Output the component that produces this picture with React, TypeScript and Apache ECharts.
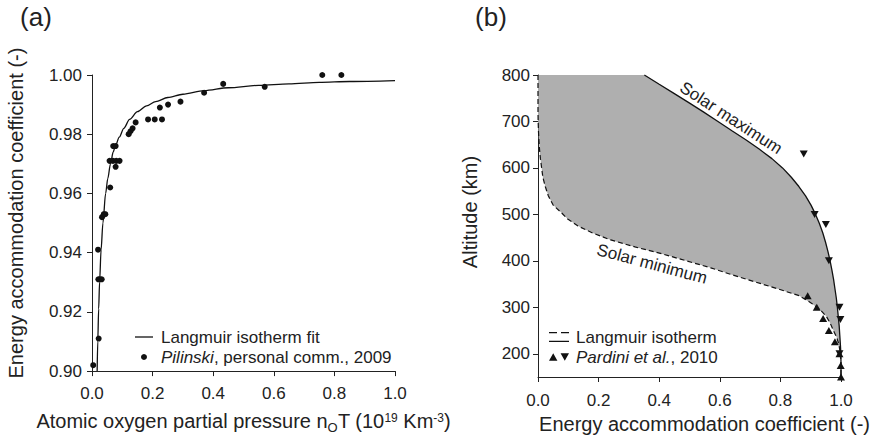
import React, { useEffect, useRef } from "react";
import * as echarts from "echarts";

const FONT = '"Liberation Sans", Arial, Helvetica, sans-serif';
const INK = "#222222";
const GRAY = "#afafaf";

// ---------- Panel (a): Pilinski data and Langmuir fit ----------
const pilinskiX = [0.004, 0.022, 0.021, 0.026, 0.032, 0.020, 0.033, 0.039, 0.044, 0.060, 0.058, 0.069, 0.080, 0.091, 0.078, 0.070, 0.078, 0.121, 0.127, 0.134, 0.144, 0.185, 0.207, 0.231, 0.224, 0.251, 0.292, 0.370, 0.433, 0.570, 0.760, 0.823];
const pilinskiY = [0.902, 0.911, 0.931, 0.931, 0.931, 0.941, 0.952, 0.953, 0.953, 0.962, 0.971, 0.971, 0.971, 0.971, 0.969, 0.976, 0.976, 0.980, 0.981, 0.982, 0.984, 0.985, 0.985, 0.985, 0.989, 0.990, 0.991, 0.994, 0.997, 0.996, 1.000, 1.000];

const fitX = [0.017, 0.019, 0.022, 0.025, 0.030, 0.036, 0.045, 0.052, 0.061, 0.070, 0.077, 0.090, 0.105, 0.124, 0.150, 0.180, 0.210, 0.250, 0.300, 0.370, 0.450, 0.550, 0.650, 0.750, 0.850, 1.000];
const fitY = [0.900, 0.910, 0.921, 0.930, 0.941, 0.950, 0.960, 0.965, 0.970, 0.974, 0.976, 0.979, 0.982, 0.985, 0.9876, 0.9896, 0.9910, 0.9924, 0.9935, 0.9947, 0.9957, 0.9965, 0.9970, 0.9975, 0.9978, 0.9981];

const xTicksA = [0, 0.2, 0.4, 0.6, 0.8, 1.0];
const yTicksA = [0.9, 0.92, 0.94, 0.96, 0.98, 1.0];

// ---------- Panel (b): solar max / min Langmuir curves and Pardini data ----------
const maxAlt = [800, 780, 760, 740, 720, 700, 680, 660, 640, 620, 600, 580, 560, 540, 520, 500, 480, 460, 440, 420, 400, 380, 360, 340, 320, 300, 280, 260, 240, 220, 200, 180, 150];
const maxAcc = [0.351, 0.400, 0.450, 0.499, 0.547, 0.594, 0.640, 0.687, 0.731, 0.772, 0.807, 0.836, 0.861, 0.883, 0.901, 0.916, 0.929, 0.940, 0.949, 0.957, 0.964, 0.970, 0.9755, 0.980, 0.9845, 0.988, 0.991, 0.994, 0.996, 0.998, 0.9995, 1.000, 1.000];

const minAlt = [800, 760, 720, 700, 680, 660, 640, 620, 600, 580, 560, 540, 520, 505, 490, 475, 460, 445, 430, 415, 400, 385, 370, 355, 340, 325, 310, 295, 280, 265, 250, 235, 220, 200, 180, 150];
const minAcc = [0.000, 0.000, 0.000, 0.0005, 0.0015, 0.003, 0.005, 0.008, 0.012, 0.016, 0.024, 0.034, 0.050, 0.075, 0.098, 0.132, 0.180, 0.240, 0.320, 0.410, 0.490, 0.570, 0.640, 0.715, 0.790, 0.862, 0.900, 0.931, 0.952, 0.965, 0.975, 0.986, 0.993, 0.998, 1.000, 1.000];

const pardiniMaxAcc = [0.877, 0.913, 0.950, 0.960, 0.995, 0.998, 0.995];
const pardiniMaxAlt = [630, 500, 478, 400, 300, 274, 200];
const pardiniMinAcc = [0.890, 0.920, 0.941, 0.960, 0.980, 0.995, 0.999, 1.000];
const pardiniMinAlt = [325, 300, 276, 250, 226, 200, 175, 150];

const xTicksB = [0, 0.2, 0.4, 0.6, 0.8, 1.0];
const yTicksB = [200, 300, 400, 500, 600, 700, 800];

const zip = (xs: number[], ys: number[]) => xs.map((x, i) => [x, ys[i]]);

const axisLineStyle = { color: INK, width: 1 };
const labelStyle = { color: INK, fontSize: 17, fontFamily: FONT };

function buildOption(): any {
  const bandPoly = [...zip(maxAcc, maxAlt), ...zip(minAcc, minAlt).reverse()];
  return {
    animation: false,
    backgroundColor: "#ffffff",
    textStyle: { fontFamily: FONT, color: INK },
    grid: [
      { left: 92, top: 75, width: 303, height: 303 },
      { left: 538, top: 75, width: 303, height: 302 },
    ],
    xAxis: [
      {
        type: "value", gridIndex: 0, min: 0, max: 1, interval: 0.2,
        axisLine: { show: true, onZero: false, lineStyle: axisLineStyle },
        axisTick: { show: true, length: 5, lineStyle: axisLineStyle, customValues: xTicksA },
        axisLabel: { ...labelStyle, margin: 14, customValues: xTicksA, formatter: (v: number) => v.toFixed(1) },
        splitLine: { show: false },
        name: "Atomic oxygen partial pressure n{sub|O}T (10{sup|19} Km{sup|-3})",
        nameLocation: "middle", nameGap: 32,
        nameTextStyle: {
          color: INK, fontSize: 20, fontFamily: FONT, lineHeight: 28,
          rich: {
            sub: { fontSize: 13, lineHeight: 13, fontFamily: FONT, color: INK, verticalAlign: "top", padding: [14, 0, 0, 0] },
            sup: { fontSize: 12, lineHeight: 12, fontFamily: FONT, color: INK, verticalAlign: "top", padding: [5, 0, 0, 0] },
          },
        },
      },
      {
        type: "value", gridIndex: 1, min: 0, max: 1, interval: 0.2,
        axisLine: { show: true, onZero: false, lineStyle: axisLineStyle },
        axisTick: { show: true, length: 5, lineStyle: axisLineStyle, customValues: xTicksB },
        axisLabel: { ...labelStyle, margin: 15, customValues: xTicksB, formatter: (v: number) => v.toFixed(1) },
        splitLine: { show: false },
        name: "Energy accommodation coefficient (-)",
        nameLocation: "middle", nameGap: 33,
        nameTextStyle: { color: INK, fontSize: 20, fontFamily: FONT, padding: [0, 0, 0, 30] },
      },
    ],
    yAxis: [
      {
        type: "value", gridIndex: 0, min: 0.9, max: 1.0,
        axisLine: { show: true, onZero: false, lineStyle: axisLineStyle },
        axisTick: { show: true, length: 5, lineStyle: axisLineStyle, customValues: yTicksA },
        axisLabel: { ...labelStyle, margin: 10, customValues: yTicksA, formatter: (v: number) => v.toFixed(2) },
        splitLine: { show: false },
        name: "Energy accommodation coefficient (-)",
        nameLocation: "middle", nameRotate: 90, nameGap: 66,
        nameTextStyle: { color: INK, fontSize: 20, fontFamily: FONT, padding: [0, 0, 0, 20] },
      },
      {
        type: "value", gridIndex: 1, min: 150, max: 800,
        axisLine: { show: true, onZero: false, lineStyle: axisLineStyle },
        axisTick: { show: true, length: 5, lineStyle: axisLineStyle, customValues: yTicksB },
        axisLabel: { ...labelStyle, margin: 8, customValues: yTicksB, formatter: (v: number) => String(v) },
        splitLine: { show: false },
        name: "Altitude (km)",
        nameLocation: "middle", nameRotate: 90, nameGap: 58,
        nameTextStyle: { color: INK, fontSize: 20, fontFamily: FONT, padding: [0, 0, 0, 28] },
      },
    ],
    legend: [
      {
        left: 135, top: 327, orient: "vertical", padding: 0, itemGap: 0,
        itemWidth: 18, itemHeight: 6, selectedMode: false,
        itemStyle: { borderWidth: 0 },
        data: [
          { name: "Langmuir isotherm fit", icon: "path://M0,0h18v1.3h-18z", itemStyle: { color: "#111", borderWidth: 0 } },
          { name: "Pilinski, personal comm., 2009", icon: "circle", itemStyle: { color: "#111", borderWidth: 0, opacity: 1 } },
        ],
        formatter: (n: string) => (n.startsWith("Pilinski") ? "{i|Pilinski}, personal comm., 2009" : n),
        textStyle: {
          color: INK, fontSize: 17, fontFamily: FONT, lineHeight: 20, padding: [0, 0, 0, 3],
          rich: { i: { fontStyle: "italic", fontSize: 17, fontFamily: FONT, color: INK, lineHeight: 20 } },
        },
      },
      {
        left: 549, top: 327, orient: "vertical", padding: 0, itemGap: 0,
        itemWidth: 20, itemHeight: 10, selectedMode: false,
        itemStyle: { borderWidth: 0 },
        data: [
          { name: "Langmuir isotherm", icon: "path://M0,0h8v1.2h-8z M12,0h8v1.2h-8z M0,8.8h20v1.2h-20z", itemStyle: { color: "#111", borderWidth: 0 } },
          { name: "Pardini et al., 2010", icon: "path://M0,7L4,0L8,7Z M11,0L19,0L15,7Z", itemStyle: { color: "#111", borderWidth: 0, opacity: 1 } },
        ],
        formatter: (n: string) => (n.startsWith("Pardini") ? "{i|Pardini et al.}, 2010" : n),
        textStyle: {
          color: INK, fontSize: 17, fontFamily: FONT, lineHeight: 20, padding: [0, 0, 0, 2],
          rich: { i: { fontStyle: "italic", fontSize: 17, fontFamily: FONT, color: INK, lineHeight: 20 } },
        },
      },
    ],
    graphic: [
      { type: "text", x: 36, y: 17, style: { text: "(a)", fill: INK, fontSize: 26, fontFamily: FONT, align: "center", verticalAlign: "middle" } },
      { type: "text", x: 491, y: 17, style: { text: "(b)", fill: INK, fontSize: 26, fontFamily: FONT, align: "center", verticalAlign: "middle" } },
      { type: "text", x: 731, y: 118, rotation: (-33 * Math.PI) / 180, z: 10, style: { text: "Solar maximum", fill: INK, fontSize: 17, fontFamily: FONT, align: "center", verticalAlign: "middle" } },
      { type: "text", x: 652, y: 264, rotation: (-15 * Math.PI) / 180, z: 10, style: { text: "Solar minimum", fill: INK, fontSize: 17, fontFamily: FONT, align: "center", verticalAlign: "middle" } },
    ],
    series: [
      {
        type: "line", name: "Langmuir isotherm fit", xAxisIndex: 0, yAxisIndex: 0,
        data: zip(fitX, fitY), symbol: "none", smooth: 0.3, smoothMonotone: "x", clip: false,
        color: "#111", lineStyle: { color: "#111", width: 1.3 }, z: 3,
      },
      {
        type: "scatter", name: "Pilinski, personal comm., 2009", xAxisIndex: 0, yAxisIndex: 0,
        data: zip(pilinskiX, pilinskiY), symbol: "circle", symbolSize: 6, clip: false,
        itemStyle: { color: "#111", opacity: 1 }, z: 4,
      },
      {
        type: "custom", name: "band", xAxisIndex: 1, yAxisIndex: 1, data: [[0.5, 500]], silent: true, z: 1, clip: false,
        renderItem: (_params: any, api: any) => ({
          type: "polygon",
          shape: { points: bandPoly.map((p) => api.coord(p)) },
          style: { fill: GRAY, stroke: null },
        }),
      },
      {
        type: "line", name: "Langmuir isotherm", xAxisIndex: 1, yAxisIndex: 1,
        data: zip(maxAcc, maxAlt), symbol: "none", clip: false,
        color: "#111", lineStyle: { color: "#111", width: 1.3 }, z: 3,
      },
      {
        type: "line", name: "Langmuir isotherm", xAxisIndex: 1, yAxisIndex: 1,
        data: zip(minAcc, minAlt), symbol: "none", clip: false,
        color: "#111", lineStyle: { color: "#111", width: 1.2, type: [5, 3] }, z: 3,
      },
      {
        type: "scatter", name: "Pardini et al., 2010", xAxisIndex: 1, yAxisIndex: 1,
        data: zip(pardiniMinAcc, pardiniMinAlt), symbol: "triangle", symbolSize: [8, 7], clip: false,
        itemStyle: { color: "#111", opacity: 1 }, z: 4,
      },
      {
        type: "scatter", name: "Pardini et al., 2010", xAxisIndex: 1, yAxisIndex: 1,
        data: zip(pardiniMaxAcc, pardiniMaxAlt), symbol: "triangle", symbolRotate: 180, symbolSize: [8, 7], clip: false,
        itemStyle: { color: "#111", opacity: 1 }, z: 4,
      },
    ],
  };
}

export default function App() {
  const ref = useRef<HTMLDivElement>(null);
  useEffect(() => {
    document.body.style.margin = "0";
    if (!ref.current) return;
    const chart = echarts.init(ref.current, null, { renderer: "svg" });
    chart.setOption(buildOption());
    return () => chart.dispose();
  }, []);
  return <div ref={ref} style={{ position: "fixed", left: 0, top: 0, width: 876, height: 440 }} />;
}
